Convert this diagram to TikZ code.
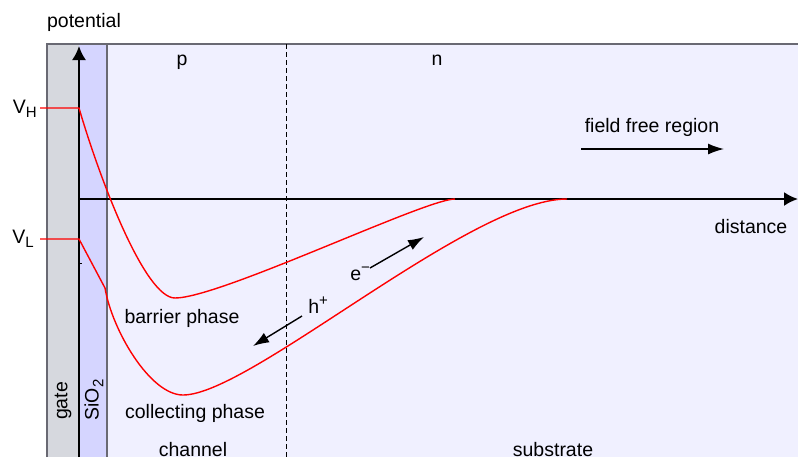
\documentclass[tikz,border=0pt]{standalone}
\usepackage{amsmath}
\usepackage{fontspec}
\setmainfont{Liberation Sans}
\usetikzlibrary{arrows.meta}
\definecolor{gatecol}{RGB}{214,216,222}
\definecolor{oxidecol}{RGB}{213,213,255}
\definecolor{bulkcol}{RGB}{240,240,255}
\definecolor{edgecol}{RGB}{105,105,115}
\newcommand{\lowidx}[1]{\raisebox{-0.45ex}{\fontsize{7.5}{9}\selectfont #1}}
\newcommand{\upidx}[1]{\raisebox{0.75ex}{\fontsize{7.5}{9}\selectfont #1}}

\begin{document}
\begin{tikzpicture}[x=0.5pt, y=-0.5pt, font=\fontsize{9.75}{11.7}\selectfont]
  \tikzset{
    lbl/.style={inner sep=0pt},
    band/.style={red, line width=0.7pt},
    axis/.style={line width=1pt, -{Latex[length=7pt, width=7pt]}},
    flow/.style={line width=0.7pt, -{Latex[length=8pt, width=5.5pt]}}
  }
  \useasboundingbox (0,0) rectangle (798,457);

  % Layers: gate, oxide, silicon
  \fill[bulkcol] (47,44) rectangle (798,457);
  \fill[gatecol] (47,44) rectangle (79,457);
  \fill[oxidecol] (79,44) rectangle (107,457);
  \draw[edgecol, line width=0.8pt] (47,457) -- (47,44) -- (798,44);
  \draw[edgecol, line width=0.8pt] (107,44) -- (107,457);

  % p/n junction
  \draw[dash pattern=on 2.5pt off 1.5pt, line width=0.5pt] (286,44) -- (286,457);

  % Axes
  \coordinate (O) at (79,457);
  \coordinate (Top) at (79,46);
  \coordinate (Left) at (80,199);
  \coordinate (Right) at (798,199);
  \draw[axis] (O) -- (Top);
  \draw[axis] (Left) -- (Right);
  \draw[line width=0.5pt] (79,263) -- (82,263);

  % Potential at V_H (barrier phase)
  \coordinate (VH) at (40,108);
  \coordinate (VHg) at (79,108);
  \coordinate (Bmin) at (175,298);
  \coordinate (Bend) at (455,199);
  \draw[band] (VH) -- (VHg) .. controls (100,180) and (145,298) .. (Bmin)
    .. controls (220,298) and (425,199) .. (Bend);

  % Potential at V_L (collecting phase)
  \coordinate (VL) at (40,239);
  \coordinate (VLg) at (79,239);
  \coordinate (VLo) at (105,288);
  \coordinate (Cmin) at (183,395);
  \coordinate (Cend) at (567,199);
  \draw[band] (VL) -- (VLg) -- (VLo) .. controls (112,330) and (150,395) .. (Cmin)
    .. controls (250,395) and (470,199) .. (Cend);

  % Carrier drift
  \coordinate (h1) at (302,316);
  \coordinate (h2) at (253,346);
  \coordinate (e1) at (370,268);
  \coordinate (e2) at (424,237);
  \coordinate (f1) at (581,149);
  \coordinate (f2) at (724,149);
  \draw[flow] (h1) -- (h2);
  \draw[flow] (e1) -- (e2);
  \draw[flow] (f1) -- (f2);

  % Labels
  \node[lbl, anchor=base] (potential) at (84,27) {potential};
  \node[lbl, anchor=base] (distance) at (751,233) {distance};
  \node[lbl, anchor=base east] (vh) at (37,113) {V\lowidx{H}};
  \node[lbl, anchor=base east] (vl) at (34,243) {V\lowidx{L}};
  \node[lbl, anchor=base] (p) at (182,65) {p};
  \node[lbl, anchor=base] (n) at (437,65) {n};
  \node[lbl, anchor=base] (free) at (652,132) {field free region};
  \node[lbl, anchor=base west] (hplus) at (308,313) {h\upidx{+}};
  \node[lbl, anchor=base west] (eminus) at (350,280) {e\upidx{\textminus}};
  \node[lbl, anchor=base] (barrier) at (182,323) {barrier phase};
  \node[lbl, anchor=base] (collect) at (195,418) {collecting phase};
  \node[lbl, anchor=base] (channel) at (193,456) {channel};
  \node[lbl, anchor=base] (substrate) at (553,456) {substrate};
  \node[lbl, rotate=90] (gate) at (63,401) {gate};
  \node[lbl, rotate=90] (oxide) at (94,400) {SiO\lowidx{2}};
\end{tikzpicture}
\end{document}
